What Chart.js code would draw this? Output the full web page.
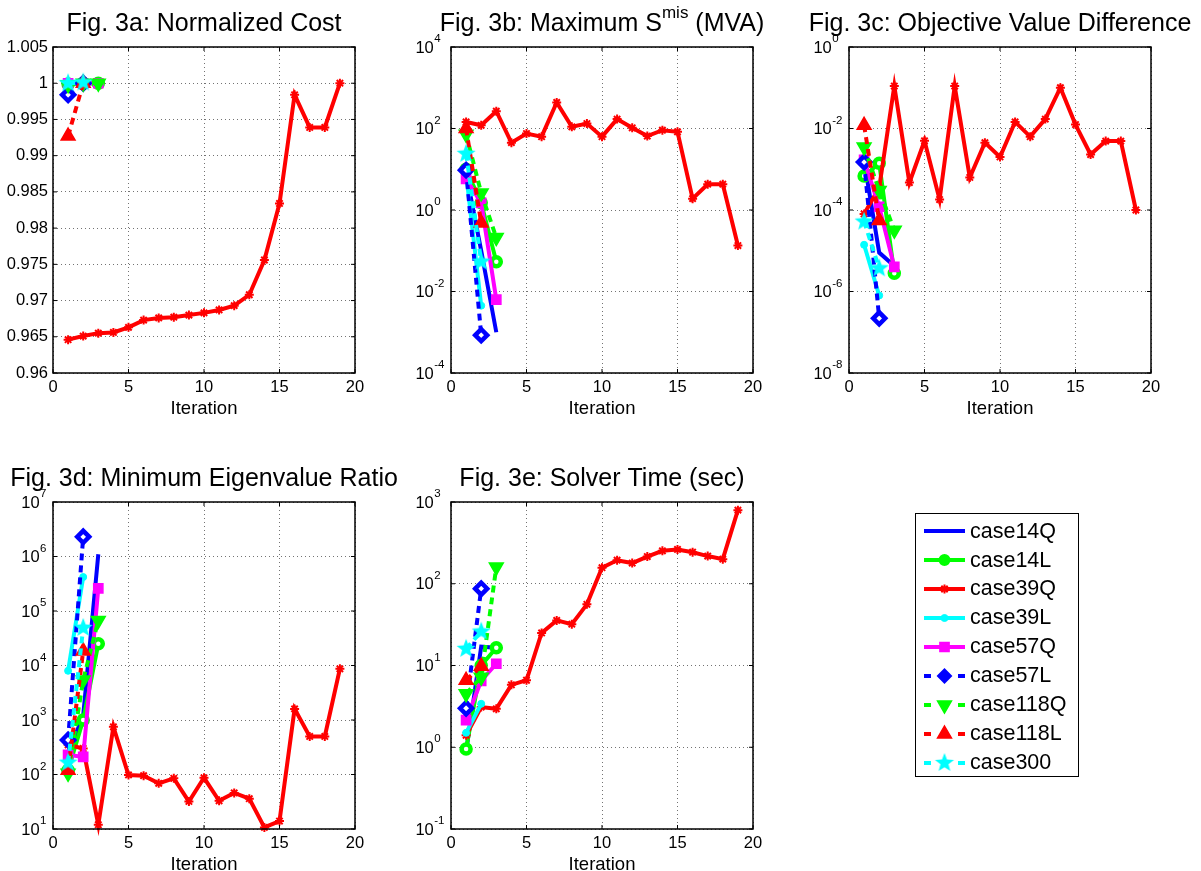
<!DOCTYPE html>
<html>
<head>
<meta charset="utf-8">
<script src="https://cdn.jsdelivr.net/npm/chart.js@4.4.0/dist/chart.umd.min.js"></script>
<style>
  body { margin: 0; background: #fff; width: 1201px; height: 871px; overflow: hidden; position: relative;
         font-family: "Liberation Sans", Arial, sans-serif; }
  canvas.plot { position: absolute; }
  #legend { position: absolute; left: 915px; top: 513px; width: 162px; height: 259px; border: 1px solid #000;
            padding-top: 3px; background: #fff; }
  .row { height: 28.9px; display: flex; align-items: center; }
  .row canvas { margin-left: 8px; }
  .row span { font-size: 21.5px; color: #000; line-height: 1; }
</style>
</head>
<body>
<canvas id="fig3a" class="plot" width="400" height="420" style="left:0;top:0"></canvas>
<canvas id="fig3b" class="plot" width="400" height="420" style="left:400px;top:0"></canvas>
<canvas id="fig3c" class="plot" width="401" height="420" style="left:800px;top:0"></canvas>
<canvas id="fig3d" class="plot" width="400" height="440" style="left:0;top:450px"></canvas>
<canvas id="fig3e" class="plot" width="400" height="440" style="left:400px;top:450px"></canvas>
<div id="legend"></div>
<script>
// cases, in legend order
var caseNames = ["case14Q", "case14L", "case39Q", "case39L", "case57Q", "case57L", "case118Q", "case118L", "case300"];

// shared tick values
var iterTicks = [0, 5, 10, 15, 20];
var costTicks = [0.96, 0.965, 0.97, 0.975, 0.98, 0.985, 0.99, 0.995, 1, 1.005];
var misTicks = [1e-4, 1e-2, 1, 1e2, 1e4];
var objTicks = [1e-8, 1e-6, 1e-4, 1e-2, 1];
var eigTicks = [1e1, 1e2, 1e3, 1e4, 1e5, 1e6, 1e7];
var timeTicks = [1e-1, 1, 1e1, 1e2, 1e3];

// Fig. 3a: normalized cost (one value per iteration)
var cost14Q = [0.9999, 1.0, 1.0];
var cost14L = [0.9999, 1.0, 1.0];
var cost39Q = [0.9646, 0.9651, 0.9655, 0.9656, 0.9663, 0.9673, 0.9676, 0.9677, 0.968, 0.9683, 0.9687, 0.9693, 0.9708, 0.9756, 0.9834, 0.9984, 0.9939, 0.9939, 1.0];
var cost39L = [1.0, 1.0];
var cost57Q = [1.0, 1.0, 1.0];
var cost57L = [0.9984, 1.0];
var cost118Q = [0.9998, 1.0, 1.0];
var cost118L = [0.9927, 1.0];
var cost300 = [1.0, 1.0001];

// Fig. 3b: maximum power mismatch (MVA)
var mis14Q = [8, 0.1, 0.001];
var mis14L = [10, 1.5, 0.054];
var mis39Q = [145, 120, 265, 45, 75, 63, 435, 110, 132, 63, 170, 104, 65, 91, 83, 1.9, 4.3, 4.3, 0.134];
var mis39L = [8, 0.0045];
var mis57Q = [5.8, 1.5, 0.0063];
var mis57L = [9.5, 0.00085];
var mis118Q = [72, 2.6, 0.21];
var mis118L = [100, 0.48];
var mis300 = [24, 0.054];

// Fig. 3c: objective value difference
var obj14Q = [1.6e-3, 9e-6, 4.2e-6];
var obj14L = [6.8e-4, 1.4e-3, 2.8e-6];
var obj39Q = [8e-5, 3.5e-4, 0.11, 4.7e-4, 5e-3, 1.8e-4, 0.11, 6.3e-4, 4.5e-3, 2e-3, 0.0145, 6.3e-3, 0.017, 0.1, 0.0125, 2.3e-3, 4.9e-3, 4.9e-3, 1e-4];
var obj39L = [1.4e-5, 8e-7];
var obj57Q = [1.7e-3, 1.2e-4, 4e-6];
var obj57L = [1.5e-3, 2.2e-7];
var obj118Q = [3.5e-3, 3e-4, 3.2e-5];
var obj118L = [0.012, 5.5e-5];
var obj300 = [5.2e-5, 3.7e-6];

// Fig. 3d: minimum eigenvalue ratio
var eig14Q = [250, 1200, 1.1e6];
var eig14L = [120, 1000, 2.5e4];
var eig39Q = [350, 300, 12, 750, 98, 95, 69, 85, 32, 87, 33, 46, 36, 10.7, 14, 1600, 500, 500, 8700];
var eig39L = [8000, 4.2e5];
var eig57Q = [230, 210, 2.6e5];
var eig57L = [430, 2.3e6];
var eig118Q = [105, 5400, 6.7e4];
var eig118L = [120, 1.85e4];
var eig300 = [165, 4.9e4];

// Fig. 3e: solver time (sec)
var time14Q = [0.88, 17, 16.5];
var time14L = [0.95, 10, 16.5];
var time39Q = [1.4, 3.1, 2.95, 5.8, 6.6, 25, 35.6, 32, 56, 157, 194, 179, 215, 253, 263, 243, 218, 200, 795];
var time39L = [1.5, 3.4];
var time57Q = [2.15, 6.5, 10.5];
var time57L = [3.0, 87];
var time118Q = [4.5, 7.2, 160];
var time118L = [6.6, 9.8];
var time300 = [16, 26];

// styles
var caseColors = ["#0000ff", "#00ff00", "#ff0000", "#00ffff", "#ff00ff", "#0000ff", "#00ff00", "#ff0000", "#00ffff"];
var caseDashed = [false, false, false, false, false, true, true, true, true];
var caseMarkers = ["none", "circle", "asterisk", "dot", "square", "diamond", "down", "up", "pentagram"];
var FONT = '"Liberation Sans", Arial, sans-serif';
var GRID = "rgba(0,0,0,0.55)";

Chart.defaults.font.family = FONT;
Chart.defaults.color = "#000";

function pentagram(color, r) {
  var c = document.createElement("canvas");
  c.width = c.height = 2 * r + 2;
  var g = c.getContext("2d");
  g.fillStyle = color;
  g.beginPath();
  for (var k = 0; k < 10; k++) {
    var rr = k % 2 ? r * 0.42 : r;
    var ang = -Math.PI / 2 + k * Math.PI / 5;
    g.lineTo(r + 1 + rr * Math.cos(ang), r + 1 + rr * Math.sin(ang));
  }
  g.closePath();
  g.fill();
  return c;
}

// point options for a marker; hollow=true gives the white centre seen in the plots
function markerOpts(i, hollow) {
  var color = caseColors[i];
  var m = caseMarkers[i];
  var o = { pointStyle: "circle", radius: 0, rotation: 0, borderWidth: 0, fill: color };
  if (m === "circle") o = { pointStyle: "circle", radius: hollow ? 4.5 : 5, rotation: 0, borderWidth: hollow ? 4.5 : 2, fill: hollow ? "#fff" : color };
  if (m === "asterisk") o = { pointStyle: "star", radius: 4.5, rotation: 0, borderWidth: 2, fill: color };
  if (m === "dot") o = { pointStyle: "circle", radius: 3.5, rotation: 0, borderWidth: 1, fill: color };
  if (m === "square") o = { pointStyle: "rect", radius: 6.5, rotation: 0, borderWidth: 1.5, fill: color };
  if (m === "diamond") o = { pointStyle: "rectRot", radius: hollow ? 6 : 6.5, rotation: 0, borderWidth: hollow ? 4.5 : 2, fill: hollow ? "#fff" : color };
  if (m === "down") o = { pointStyle: "triangle", radius: 8, rotation: 180, borderWidth: 1.5, fill: color };
  if (m === "up") o = { pointStyle: "triangle", radius: 8, rotation: 0, borderWidth: 1.5, fill: color };
  if (m === "pentagram") o = { pointStyle: pentagram(color, 10), radius: 10, rotation: 0, borderWidth: 0, fill: color };
  return o;
}

function buildSets(seriesList) {
  return caseNames.map(function (name, i) {
    var mk = markerOpts(i, true);
    return {
      label: name,
      data: seriesList[i].map(function (v, k) { return { x: k + 1, y: v }; }),
      borderColor: caseColors[i],
      borderWidth: 4,
      borderDash: caseDashed[i] ? [7, 5] : [],
      pointStyle: mk.pointStyle,
      pointRadius: mk.radius,
      pointRotation: mk.rotation,
      pointBorderWidth: mk.borderWidth,
      pointBackgroundColor: mk.fill,
      pointBorderColor: caseColors[i],
      tension: 0,
      fill: false,
      clip: false,
      order: 8 - i
    };
  });
}

// box, inward tick marks, title (with superscripts) and 10^n labels
var framePlugin = {
  id: "frame",
  afterDraw: function (chart, args, opts) {
    var ctx = chart.ctx, a = chart.chartArea;
    var xs = chart.scales.x, ys = chart.scales.y;
    ctx.save();
    ctx.strokeStyle = "#000";
    ctx.lineWidth = 1;
    ctx.beginPath();
    xs.ticks.forEach(function (t) {
      var px = xs.getPixelForValue(t.value);
      ctx.moveTo(px, a.bottom); ctx.lineTo(px, a.bottom - 4);
      ctx.moveTo(px, a.top); ctx.lineTo(px, a.top + 4);
    });
    ys.ticks.forEach(function (t) {
      var py = ys.getPixelForValue(t.value);
      ctx.moveTo(a.left, py); ctx.lineTo(a.left + 4, py);
      ctx.moveTo(a.right, py); ctx.lineTo(a.right - 4, py);
    });
    ctx.stroke();
    ctx.lineWidth = 1.5;
    ctx.strokeRect(a.left, a.top, a.right - a.left, a.bottom - a.top);

    ctx.fillStyle = "#000";
    if (opts.logLabels) {
      ctx.textBaseline = "middle";
      ctx.font = "11.5px " + FONT;
      var maxW = 0;
      ys.ticks.forEach(function (t) {
        var e = String(Math.round(Math.log10(t.value)));
        maxW = Math.max(maxW, ctx.measureText(e).width);
      });
      var baseRight = a.left - 7 - maxW;
      ys.ticks.forEach(function (t) {
        var py = ys.getPixelForValue(t.value);
        var e = String(Math.round(Math.log10(t.value)));
        ctx.font = "16.5px " + FONT;
        ctx.textAlign = "right";
        ctx.fillText("10", baseRight, py + 1);
        ctx.font = "11.5px " + FONT;
        ctx.textAlign = "left";
        ctx.fillText(e, baseRight + 0.5, py - 8);
      });
    }

    var parts = opts.title || [];
    var sizes = parts.map(function (p) { return p[1] ? 17 : 25; });
    var total = 0;
    parts.forEach(function (p, k) {
      ctx.font = sizes[k] + "px " + FONT;
      total += ctx.measureText(p[0]).width;
    });
    var x = (a.left + a.right) / 2 - total / 2;
    var base = a.top - 16;
    ctx.textAlign = "left";
    ctx.textBaseline = "alphabetic";
    parts.forEach(function (p, k) {
      ctx.font = sizes[k] + "px " + FONT;
      ctx.fillText(p[0], x, p[1] ? base - 13 : base);
      x += ctx.measureText(p[0]).width;
    });
    ctx.restore();
  }
};
Chart.register(framePlugin);

function makeChart(id, seriesList, yScale, titleParts, area, xTitlePad) {
  var canvas = document.getElementById(id);
  var W = canvas.width, H = canvas.height;
  yScale.grid = { drawTicks: false, color: GRID, lineWidth: 1 };
  yScale.border = { display: false, dash: [1, 3] };
  yScale.afterFit = function (s) { s.width = area.left; };
  new Chart(canvas, {
    type: "line",
    data: { datasets: buildSets(seriesList) },
    options: {
      responsive: false,
      animation: false,
      layout: { padding: { top: area.top, right: W - area.right, left: 0, bottom: 0 } },
      scales: {
        x: {
          type: "linear",
          min: 0,
          max: 20,
          afterBuildTicks: function (ax) { ax.ticks = iterTicks.map(function (v) { return { value: v }; }); },
          ticks: { font: { size: 16.5 }, padding: 5, maxRotation: 0, autoSkip: false, color: "#000" },
          grid: { drawTicks: false, color: GRID, lineWidth: 1 },
          border: { display: false, dash: [1, 3] },
          title: { display: true, text: "Iteration", font: { size: 18.5 }, color: "#000", padding: { top: 0, bottom: xTitlePad } },
          afterFit: function (s) { s.height = H - area.bottom; }
        },
        y: yScale
      },
      plugins: {
        legend: { display: false },
        tooltip: { enabled: false },
        frame: { title: titleParts, logLabels: yScale.type === "logarithmic" }
      }
    }
  });
}

function logScale(min, max, tickVals) {
  return {
    type: "logarithmic",
    min: min,
    max: max,
    afterBuildTicks: function (ax) { ax.ticks = tickVals.map(function (v) { return { value: v }; }); },
    ticks: { display: false }
  };
}

var topArea = function (l) { return { left: l, top: 47, right: l + 302, bottom: 373 }; };
var bottomArea = function (l) { return { left: l, top: 52, right: l + 302, bottom: 379 }; };

makeChart("fig3a",
  [cost14Q, cost14L, cost39Q, cost39L, cost57Q, cost57L, cost118Q, cost118L, cost300],
  {
    type: "linear",
    min: 0.96,
    max: 1.005,
    afterBuildTicks: function (ax) { ax.ticks = costTicks.map(function (v) { return { value: v }; }); },
    ticks: { font: { size: 16.5 }, padding: 5, autoSkip: false, color: "#000",
             callback: function (v) { return String(+Number(v).toFixed(3)); } }
  },
  [["Fig. 3a: Normalized Cost", 0]], topArea(53), 0);

makeChart("fig3b",
  [mis14Q, mis14L, mis39Q, mis39L, mis57Q, mis57L, mis118Q, mis118L, mis300],
  logScale(1e-4, 1e4, misTicks),
  [["Fig. 3b: Maximum S", 0], ["mis", 1], [" (MVA)", 0]], topArea(51), 0);

makeChart("fig3c",
  [obj14Q, obj14L, obj39Q, obj39L, obj57Q, obj57L, obj118Q, obj118L, obj300],
  logScale(1e-8, 1, objTicks),
  [["Fig. 3c: Objective Value Difference", 0]], topArea(49), 0);

makeChart("fig3d",
  [eig14Q, eig14L, eig39Q, eig39L, eig57Q, eig57L, eig118Q, eig118L, eig300],
  logScale(10, 1e7, eigTicks),
  [["Fig. 3d: Minimum Eigenvalue Ratio", 0]], bottomArea(53), 14);

makeChart("fig3e",
  [time14Q, time14L, time39Q, time39L, time57Q, time57L, time118Q, time118L, time300],
  logScale(0.1, 1000, timeTicks),
  [["Fig. 3e: Solver Time (sec)", 0]], bottomArea(51), 14);

// legend box
var legend = document.getElementById("legend");
caseNames.forEach(function (name, i) {
  var row = document.createElement("div");
  row.className = "row";
  var c = document.createElement("canvas");
  c.width = 46; c.height = 26;
  var g = c.getContext("2d");
  g.strokeStyle = caseColors[i];
  g.lineWidth = 4;
  g.beginPath();
  if (caseDashed[i]) {
    g.moveTo(0, 13); g.lineTo(7, 13);
    g.moveTo(34, 13); g.lineTo(41, 13);
  } else {
    g.moveTo(0, 13); g.lineTo(41, 13);
  }
  g.stroke();
  var mk = markerOpts(i, false);
  if (mk.radius > 0) {
    g.fillStyle = mk.fill;
    g.lineWidth = mk.borderWidth;
    Chart.helpers.drawPoint(g, { pointStyle: mk.pointStyle, radius: mk.radius, rotation: mk.rotation, borderWidth: mk.borderWidth }, 20.5, 13);
  }
  var s = document.createElement("span");
  s.textContent = name;
  row.appendChild(c);
  row.appendChild(s);
  legend.appendChild(row);
});
</script>
</body>
</html>
